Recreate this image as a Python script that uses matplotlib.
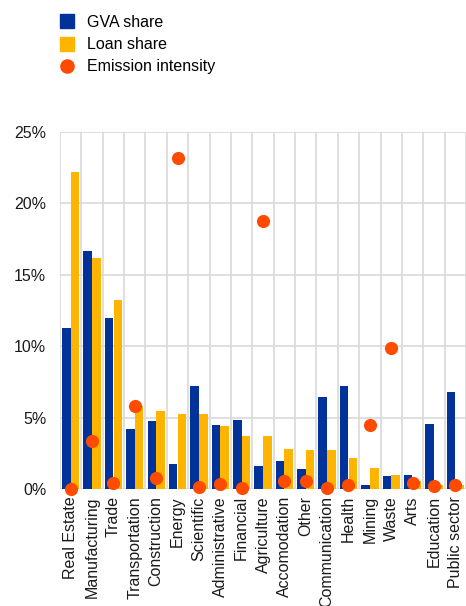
import numpy as np
import matplotlib
matplotlib.use("Agg")
import matplotlib.pyplot as plt
from matplotlib.lines import Line2D
from matplotlib.ticker import FuncFormatter, FixedLocator

plt.rcParams['font.family'] = ['Liberation Sans', 'DejaVu Sans']

sectors = ["Real Estate", "Manufacturing", "Trade", "Transportation", "Construction",
           "Energy", "Scientific", "Administrative", "Financial", "Agriculture",
           "Accomodation", "Other", "Communication", "Health", "Mining", "Waste",
           "Arts", "Education", "Public sector"]
gva_share = [11.3, 16.7, 12.0, 4.2, 4.75, 1.8, 7.2, 4.5, 4.85, 1.6,
             1.95, 1.45, 6.45, 7.25, 0.28, 0.93, 1.0, 4.6, 6.8]
loan_share = [22.2, 16.2, 13.25, 5.85, 5.5, 5.3, 5.25, 4.45, 3.7, 3.7,
              2.85, 2.75, 2.75, 2.2, 1.47, 0.98, 0.58, 0.28, 0.28]
emission_intensity = [0.05, 3.35, 0.45, 5.85, 0.8, 23.15, 0.15, 0.35, 0.08, 18.8,
                      0.6, 0.58, 0.07, 0.3, 4.5, 9.9, 0.45, 0.22, 0.28]

blue = "#003299"
yellow = "#FFB400"
orange = "#FF4B00"
grid_c = "#D9D9D9"

fig = plt.figure(figsize=(4.66, 6.06), dpi=100)
ax = fig.add_axes([0.1288, 0.1926, 0.8712, 0.5895])

x = np.arange(len(sectors))
ax.bar(x - 0.205, gva_share, width=0.4, color=blue, zorder=2)
ax.bar(x + 0.205, loan_share, width=0.4, color=yellow, zorder=2)
ax.scatter(x, emission_intensity, s=90, color=orange, zorder=3, clip_on=False,
           linewidths=0)

ax.set_xlim(-0.5, len(sectors) - 0.5)
ax.set_ylim(0, 25)
ax.set_yticks([0, 5, 10, 15, 20, 25])
ax.yaxis.set_major_formatter(FuncFormatter(lambda v, p: f"{v:.0f}%"))
ax.set_xticks(x)
ax.set_xticklabels(sectors, rotation=90)
ax.xaxis.set_minor_locator(FixedLocator(np.arange(-0.5, len(sectors), 1.0)))

ax.grid(True, axis="y", which="major", color=grid_c, linewidth=1.2, zorder=0)
ax.grid(True, axis="x", which="minor", color=grid_c, linewidth=1.2, zorder=0)
ax.set_axisbelow(True)
for s in ax.spines.values():
    s.set_visible(False)
ax.tick_params(axis="both", which="both", length=0, labelsize=11.5, colors="#1a1a1a")
ax.tick_params(axis="y", pad=10)
ax.tick_params(axis="x", pad=5)

handles = [
    Line2D([], [], marker="s", linestyle="none", markersize=9.5, color=blue),
    Line2D([], [], marker="s", linestyle="none", markersize=9.5, color=yellow),
    Line2D([], [], marker="o", linestyle="none", markersize=9.5, color=orange),
]
fig.legend(handles, ["GVA share", "Loan share", "Emission intensity"],
           loc="upper left", bbox_to_anchor=(0.096, 0.999), frameon=False,
           fontsize=11.5, handlelength=1.0, handletextpad=0.75, labelspacing=0.45)

fig.savefig("out.png", dpi=100)
